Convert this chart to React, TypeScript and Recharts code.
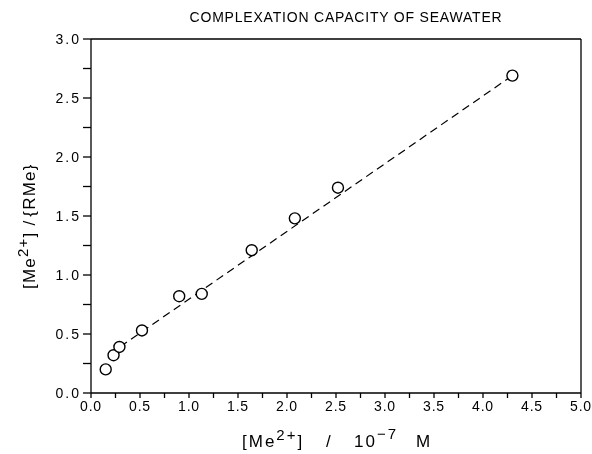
import { ComposedChart, Scatter, Line, XAxis, YAxis } from 'recharts';

// measured points ([Me2+] in 1e-7 M, [Me2+]/{RMe})
const points = [
  { x: 0.15, y: 0.2 },
  { x: 0.23, y: 0.32 },
  { x: 0.29, y: 0.39 },
  { x: 0.52, y: 0.53 },
  { x: 0.9, y: 0.82 },
  { x: 1.13, y: 0.84 },
  { x: 1.64, y: 1.21 },
  { x: 2.08, y: 1.48 },
  { x: 2.52, y: 1.74 },
  { x: 4.3, y: 2.69 },
];

// dashed regression line, ends
const fitLine = [
  { x: 0.19, y: 0.33 },
  { x: 4.3, y: 2.69 },
];

const xTicks = [0, 0.25, 0.5, 0.75, 1, 1.25, 1.5, 1.75, 2, 2.25, 2.5, 2.75, 3, 3.25, 3.5, 3.75, 4, 4.25, 4.5, 4.75, 5];
const yTicks = [0, 0.25, 0.5, 0.75, 1, 1.25, 1.5, 1.75, 2, 2.25, 2.5, 2.75, 3];
const majorStep = 0.5;

const title = 'COMPLEXATION CAPACITY OF SEAWATER';

const font = '"Liberation Sans", Arial, sans-serif';

const fmt = (v: number) => (Math.abs(v / majorStep - Math.round(v / majorStep)) < 1e-6 ? v.toFixed(1) : '');

const XLabel = () => (
  <text y={447} fontFamily={font} fontSize={17} fill="#000" letterSpacing={2}>
    <tspan x={242}>[Me</tspan>
    <tspan dy={-7} fontSize={15}>2+</tspan>
    <tspan dy={7}>]</tspan>
    <tspan x={326}>/</tspan>
    <tspan x={354}>10</tspan>
    <tspan dy={-8} fontSize={15}>−7</tspan>
    <tspan dy={8} x={416}>M</tspan>
  </text>
);

const YLabel = () => (
  <text
    x={0}
    y={0}
    transform="translate(35,289) rotate(-90)"
    fontFamily={font}
    fontSize={17}
    fill="#000"
    letterSpacing={1.2}
  >
    [Me<tspan dy={-7} fontSize={15}>2+</tspan>
    <tspan dy={7}>]</tspan>
    <tspan dx={6}>/</tspan>
    <tspan dx={3}>{'{'}RMe{'}'}</tspan>
  </text>
);

export default function App() {
  const yTickStyle = { fill: '#000', fontSize: 14, fontFamily: font, letterSpacing: 2 };
  const xTickStyle = { fill: '#000', fontSize: 14, fontFamily: font, letterSpacing: 0.8 };
  return (
    <div style={{ position: 'fixed', left: 0, top: 0, width: 592, height: 454, background: '#fff' }}>
      <div
        style={{
          position: 'absolute',
          left: 0,
          width: 692,
          top: 9,
          textAlign: 'center',
          fontFamily: font,
          fontSize: 14,
          color: '#000',
          letterSpacing: 0.8,
        }}
      >
        {title}
      </div>
      <ComposedChart width={592} height={454} margin={{ top: 39, right: 11, left: 0, bottom: 0 }}>
        <XAxis
          xAxisId="x"
          dataKey="x"
          type="number"
          domain={[0, 5]}
          ticks={xTicks}
          tickFormatter={fmt}
          interval={0}
          height={61}
          tickSize={5}
          tickMargin={3}
          tick={xTickStyle}
          stroke="#000"
          strokeWidth={1.3}
          label={<XLabel />}
        />
        <XAxis
          xAxisId="top"
          orientation="top"
          type="number"
          domain={[0, 5]}
          ticks={xTicks}
          interval={0}
          mirror
          tick={false}
          tickSize={5}
          stroke="#000"
          strokeWidth={1.3}
        />
        <YAxis
          yAxisId="y"
          type="number"
          domain={[0, 3]}
          ticks={yTicks}
          tickFormatter={fmt}
          interval={0}
          width={91}
          tickSize={8}
          tickMargin={2}
          tick={yTickStyle}
          stroke="#000"
          strokeWidth={1.3}
          label={<YLabel />}
        />
        <YAxis
          yAxisId="right"
          orientation="right"
          type="number"
          domain={[0, 3]}
          ticks={yTicks}
          interval={0}
          mirror
          tick={false}
          tickSize={5}
          stroke="#000"
          strokeWidth={1.3}
        />
        <Line
          xAxisId="x"
          yAxisId="y"
          data={fitLine}
          dataKey="y"
          stroke="#000"
          strokeWidth={1.2}
          strokeDasharray="8 5"
          dot={false}
          isAnimationActive={false}
        />
        <Scatter
          xAxisId="x"
          yAxisId="y"
          data={points}
          dataKey="y"
          shape={(p: any) => <circle cx={p.cx} cy={p.cy} r={5.5} fill="#fff" stroke="#000" strokeWidth={1.4} />}
          isAnimationActive={false}
        />
      </ComposedChart>
    </div>
  );
}
